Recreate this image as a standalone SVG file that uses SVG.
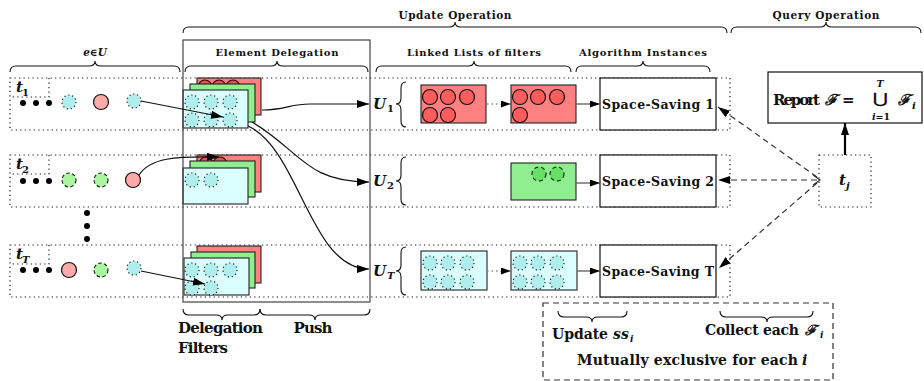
<svg xmlns="http://www.w3.org/2000/svg" width="924" height="381" viewBox="0 0 924 381">
<defs>
<style>
text{font-family:"DejaVu Serif","Liberation Serif",serif;font-weight:bold;fill:#111}
.it{font-style:italic}
.row{fill:none;stroke:#222;stroke-width:1.2;stroke-dasharray:1.3 3.2}
.brace{fill:none;stroke:#111;stroke-width:1.1}
.cy{fill:#b0eeee;stroke:#111;stroke-width:1.1;stroke-dasharray:1.2 2.8}
.pk{fill:#ffaaaa;stroke:#111;stroke-width:1.2}
.gr{fill:#aaf5a0;stroke:#111;stroke-width:1.1;stroke-dasharray:3.5 2.5}
.fr{fill:#ff8080;stroke:#222;stroke-width:1.1}
.fg{fill:#90ee90;stroke:#222;stroke-width:1.1}
.fc{fill:#dbffff;stroke:#222;stroke-width:1.1}
.rc{fill:#ff5c5c;stroke:#111;stroke-width:1.2}
.rk{fill:#e05555;stroke:#300;stroke-width:1.1}
.gc{fill:#66e066;stroke:#111;stroke-width:1.1;stroke-dasharray:4 3}
.box{fill:#fff;stroke:#111;stroke-width:1.2}
.ln{fill:none;stroke:#111;stroke-width:1.2}
.gl{fill:none;stroke:#666;stroke-width:1.4}
.gd{fill:none;stroke:#888;stroke-width:1.4;stroke-dasharray:1.5 3}
.dl{fill:none;stroke:#333;stroke-width:1.2;stroke-dasharray:6 4}
</style>
<marker id="ah" viewBox="0 0 12 8" refX="12" refY="4" markerWidth="12" markerHeight="8" markerUnits="userSpaceOnUse" orient="auto"><path d="M0,0 L12,4 L0,8 z" fill="#000"/></marker>
<marker id="as" viewBox="0 0 10 7" refX="10" refY="3.5" markerWidth="10" markerHeight="7" markerUnits="userSpaceOnUse" orient="auto"><path d="M0,0 L10,3.5 L0,7 z" fill="#000"/></marker>
</defs>

<g id="header">
<text x="455" y="19" font-size="10.5" text-anchor="middle" textLength="113">Update Operation</text>
<path class="brace" d="M183,33 Q183,27 189,27 L449,27 Q455,27 455,22 Q455,27 461,27 L721,27 Q727,27 727,33"/>
<text x="826" y="19" font-size="10.5" text-anchor="middle" textLength="107">Query Operation</text>
<path class="brace" d="M731,33 Q731,27 737,27 L820,27 Q826,27 826,22 Q826,27 832,27 L915,27 Q921,27 921,33"/>
<text class="it" x="95" y="56" font-size="10.5" text-anchor="middle">e∈U</text>
<path class="brace" d="M10,72 Q10,66 16,66 L89,66 Q95,66 95,61 Q95,66 101,66 L174,66 Q180,66 180,72"/>
<text x="474" y="56" font-size="10" text-anchor="middle" textLength="134">Linked Lists of filters</text>
<path class="brace" d="M376,72 Q376,66 382,66 L468,66 Q474,66 474,61 Q474,66 480,66 L565,66 Q571,66 571,72"/>
<text x="643" y="56" font-size="10" text-anchor="middle" textLength="128">Algorithm Instances</text>
<path class="brace" d="M576,72 Q576,66 582,66 L637,66 Q643,66 643,61 Q643,66 649,66 L704,66 Q710,66 710,72"/>
</g>

<g id="row-1">
<rect class="row" x="10" y="78" width="720" height="52"/>
<path class="row" d="M49,78 V97 H10"/>
<text class="it" x="16" y="92" font-size="15">t</text><text x="22" y="96" font-size="10">1</text>
<circle cx="23" cy="103" r="3"/><circle cx="36" cy="103" r="3"/><circle cx="49" cy="103" r="3"/>
<circle class="cy" cx="69" cy="102" r="7"/>
<circle class="pk" cx="101" cy="102" r="7.5"/>
<circle class="cy" cx="134" cy="101" r="7"/>
</g>
<g id="row-2">
<rect class="row" x="10" y="155" width="720" height="52"/>
<path class="row" d="M49,155 V174 H10"/>
<text class="it" x="16" y="169" font-size="15">t</text><text x="22" y="173" font-size="10">2</text>
<circle cx="23" cy="181" r="3"/><circle cx="36" cy="181" r="3"/><circle cx="49" cy="181" r="3"/>
<circle class="gr" cx="69" cy="180" r="7"/>
<circle class="gr" cx="101" cy="180" r="7"/>
<circle class="pk" cx="133" cy="180" r="7.5"/>
</g>
<g id="row-vdots">
<circle cx="87" cy="213" r="3"/><circle cx="87" cy="226" r="3"/><circle cx="87" cy="239" r="3"/>
</g>
<g id="row-T">
<rect class="row" x="10" y="245" width="720" height="52"/>
<path class="row" d="M49,245 V264 H10"/>
<text class="it" x="16" y="259" font-size="15">t</text><text class="it" x="22" y="263" font-size="10">T</text>
<circle cx="23" cy="270" r="3"/><circle cx="36" cy="270" r="3"/><circle cx="49" cy="270" r="3"/>
<circle class="pk" cx="69" cy="270" r="7.5"/>
<circle class="gr" cx="101" cy="270" r="7"/>
<circle class="cy" cx="134" cy="268" r="7"/>
</g>

<g id="stack-1">
<rect class="fr" x="197" y="78" width="64" height="37"/>
<circle class="rk" cx="205" cy="87" r="7"/><circle class="rk" cx="219" cy="87" r="7"/><circle class="rk" cx="233" cy="87" r="7"/>
<rect class="fg" x="190" y="84" width="65" height="38"/>
<rect class="fc" x="183" y="90" width="65" height="38"/>
<circle class="cy" cx="192" cy="102" r="7"/><circle class="cy" cx="211" cy="102" r="7"/><circle class="cy" cx="230" cy="102" r="7"/>
<circle class="cy" cx="192" cy="120" r="7"/><circle class="cy" cx="211" cy="120" r="7"/><circle class="cy" cx="230" cy="120" r="7"/>
</g>
<g id="stack-2">
<rect class="fr" x="197" y="155" width="64" height="37"/>
<circle class="rk" cx="206" cy="164" r="7"/><circle class="rk" cx="220" cy="164" r="7"/>
<rect class="fg" x="190" y="161" width="65" height="36"/>
<rect class="fc" x="183" y="168" width="65" height="36"/>
<circle class="cy" cx="192" cy="180" r="7"/><circle class="cy" cx="211" cy="180" r="7"/>
</g>
<g id="stack-T">
<rect class="fr" x="197" y="246" width="64" height="37"/>
<rect class="fg" x="191" y="252" width="64" height="36"/>
<rect class="fc" x="184" y="258" width="65" height="37"/>
<circle class="cy" cx="192" cy="270" r="7"/><circle class="cy" cx="211" cy="270" r="7"/><circle class="cy" cx="230" cy="270" r="7"/>
<circle class="cy" cx="192" cy="288" r="7"/><circle class="cy" cx="211" cy="288" r="7"/>
</g>

<g id="element-delegation">
<rect x="183" y="40" width="187" height="262" fill="none" stroke="#444" stroke-width="1.2"/>
<text x="277" y="56" font-size="10" text-anchor="middle" textLength="123">Element Delegation</text>
<path class="brace" d="M185,72 Q185,66 191,66 L271,66 Q277,66 277,61 Q277,66 283,66 L362,66 Q368,66 368,72"/>
<path class="brace" d="M183,309 Q183,315 189,315 L216,315 Q222,315 222,320 Q222,315 228,315 L254,315 Q260,315 260,309"/>
<path class="brace" d="M260,309 Q260,315 266,315 L309,315 Q315,315 315,320 Q315,315 321,315 L364,315 Q370,315 370,309"/>
<text x="178" y="333" font-size="15" textLength="85">Delegation</text>
<text x="178" y="353" font-size="15" textLength="50">Filters</text>
<text x="313" y="333" font-size="15" text-anchor="middle" textLength="39">Push</text>
</g>

<g id="U1">
<text class="it" x="373" y="109" font-size="15">U</text><text x="387" y="112" font-size="10">1</text>
<path class="brace" d="M406,82 Q401,82 401,88 L401,98 Q401,104 396,104 Q401,104 401,110 L401,121 Q401,127 406,127"/>
</g>
<g id="U2">
<text class="it" x="373" y="186" font-size="15">U</text><text x="387" y="189" font-size="10">2</text>
<path class="brace" d="M406,157 Q401,157 401,163 L401,175 Q401,181 396,181 Q401,181 401,187 L401,199 Q401,205 406,205"/>
</g>
<g id="UT">
<text class="it" x="373" y="276" font-size="15">U</text><text class="it" x="387" y="279" font-size="10">T</text>
<path class="brace" d="M406,247 Q401,247 401,253 L401,265 Q401,271 396,271 Q401,271 401,277 L401,289 Q401,295 406,295"/>
</g>

<g id="list-1a">
<rect class="fr" x="421" y="85" width="65" height="38"/>
<circle class="rc" cx="430" cy="97" r="7.5"/><circle class="rc" cx="448" cy="97" r="7.5"/><circle class="rc" cx="467" cy="97" r="7.5"/>
<circle class="rc" cx="430" cy="115" r="7.5"/><circle class="rc" cx="448" cy="115" r="7.5"/>
</g>
<g id="list-1b">
<rect class="fr" x="511" y="85" width="65" height="38"/>
<circle class="rc" cx="520" cy="97" r="7.5"/><circle class="rc" cx="538" cy="97" r="7.5"/><circle class="rc" cx="557" cy="97" r="7.5"/>
<circle class="rc" cx="520" cy="115" r="7.5"/>
</g>
<g id="list-2">
<rect class="fg" x="511" y="163" width="65" height="37"/>
<circle class="gc" cx="539" cy="174" r="7"/><circle class="gc" cx="557" cy="174" r="7"/>
</g>
<g id="list-Ta">
<rect class="fc" x="421" y="251" width="66" height="39"/>
<circle class="cy" cx="430" cy="263" r="7"/><circle class="cy" cx="448" cy="263" r="7"/><circle class="cy" cx="467" cy="263" r="7"/>
<circle class="cy" cx="430" cy="282" r="7"/><circle class="cy" cx="448" cy="282" r="7"/><circle class="cy" cx="467" cy="282" r="7"/>
</g>
<g id="list-Tb">
<rect class="fc" x="511" y="251" width="66" height="39"/>
<circle class="cy" cx="520" cy="263" r="7"/><circle class="cy" cx="538" cy="263" r="7"/><circle class="cy" cx="557" cy="263" r="7"/>
<circle class="cy" cx="520" cy="282" r="7"/><circle class="cy" cx="538" cy="282" r="7"/><circle class="cy" cx="557" cy="282" r="7"/>
</g>

<g id="ss1"><rect class="box" x="600" y="78" width="116" height="52"/><text x="658" y="108.5" font-size="12.5" text-anchor="middle" textLength="112">Space-Saving 1</text></g>
<g id="ss2"><rect class="box" x="600" y="155" width="116" height="52"/><text x="658" y="185.5" font-size="12.5" text-anchor="middle" textLength="112">Space-Saving 2</text></g>
<g id="ssT"><rect class="box" x="600" y="245" width="116" height="52"/><text x="658" y="275.5" font-size="12.5" text-anchor="middle" textLength="112">Space-Saving T</text></g>

<g id="report">
<rect class="box" x="768" y="72" width="154" height="51"/>
<text x="773" y="105" font-size="15" textLength="47">Report</text>
<text class="it" x="825" y="105" font-size="15">ℱ</text>
<text x="842" y="105" font-size="15">=</text>
<text x="880" y="103" font-size="13.5" text-anchor="middle" font-weight="normal" textLength="14" lengthAdjust="spacingAndGlyphs">⋃</text>
<text class="it" x="880" y="87" font-size="9.5" text-anchor="middle">T</text>
<text x="881" y="120" font-size="9.5" text-anchor="middle"><tspan font-style="italic">i</tspan>=1</text>
<text class="it" x="898" y="105" font-size="15">ℱ</text>
<text class="it" x="912" y="109" font-size="10">i</text>
</g>
<g id="tj">
<rect class="row" x="819" y="155" width="52" height="52"/>
<text class="it" x="839" y="185" font-size="15">t</text><text class="it" x="846" y="189" font-size="10">j</text>
</g>

<g id="query-note">
<rect x="543" y="303" width="290" height="77" fill="none" stroke="#333" stroke-width="1.2" stroke-dasharray="6 4"/>
<path class="brace" d="M558,311 Q558,317 564,317 L586,317 Q592,317 592,322 Q592,317 598,317 L621,317 Q627,317 627,311"/>
<path class="brace" d="M720,311 Q720,317 726,317 L761,317 Q767,317 767,322 Q767,317 773,317 L807,317 Q813,317 813,311"/>
<text x="552" y="339" font-size="14" textLength="56">Update</text>
<text class="it" x="613" y="339" font-size="14">ss</text><text class="it" x="630" y="342" font-size="9">i</text>
<text x="705" y="335" font-size="14" textLength="94">Collect each</text>
<text class="it" x="805" y="335" font-size="14">ℱ</text><text class="it" x="820" y="338" font-size="9">i</text>
<text x="577" y="365" font-size="14" textLength="221">Mutually exclusive for each</text>
<text class="it" x="802" y="365" font-size="14">i</text>
</g>

<g id="connectors">
<path class="ln" d="M141,101 L223,117" marker-end="url(#ah)"/>
<path class="ln" d="M139,175 C150,158 175,156 219,157" marker-end="url(#ah)"/>
<path class="ln" d="M141,271 L205,284" marker-end="url(#ah)"/>
<path class="ln" d="M262,110 C285,110 290,104 310,104 L369,104" marker-end="url(#ah)"/>
<path class="ln" d="M252,122 C300,150 305,182 369,182" marker-end="url(#ah)"/>
<path class="ln" d="M248,126 C300,150 310,269 369,269" marker-end="url(#ah)"/>
<path class="gd" d="M487,104 L511,104" marker-end="url(#as)"/>
<path class="gl" d="M576,104 L600,104" marker-end="url(#as)"/>
<path class="gl" d="M576,183 L600,183" marker-end="url(#as)"/>
<path class="gd" d="M487,271 L511,271" marker-end="url(#as)"/>
<path class="gl" d="M577,271 L600,271" marker-end="url(#as)"/>
<path d="M845,155 L845,123" fill="none" stroke="#000" stroke-width="2.2" marker-end="url(#ah)"/>
<path class="dl" d="M817,177 L718,107" marker-end="url(#ah)"/>
<path class="dl" d="M817,180 L718,180" marker-end="url(#ah)"/>
<path class="dl" d="M817,183 L719,268" marker-end="url(#ah)"/>
<path d="M813,175 L820,180 L813,185" fill="none" stroke="#333" stroke-width="1.2"/>
</g>
</svg>
